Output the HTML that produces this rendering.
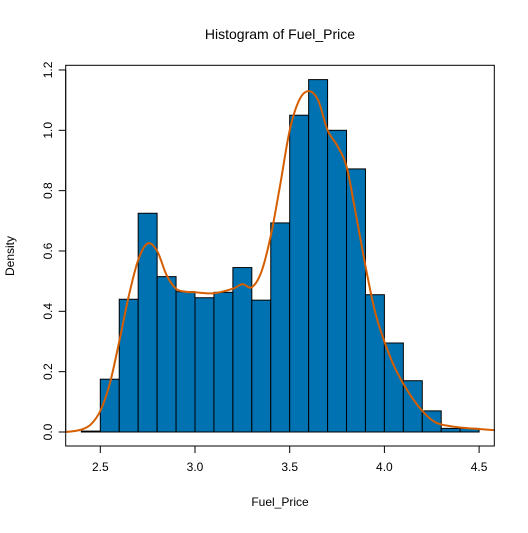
<!DOCTYPE html>
<html><head><meta charset="utf-8"><style>
body{margin:0;background:#fff}
svg text{font-family:"Liberation Sans",Arial,sans-serif;fill:#000}
</style></head><body>
<svg id="chart" width="528" height="528">
<text x="280" y="39" font-size="14" text-anchor="middle">Histogram of Fuel_Price</text>
<text x="280" y="506" font-size="12" text-anchor="middle">Fuel_Price</text>
<text transform="translate(14,256) rotate(-90)" font-size="12" text-anchor="middle">Density</text>
<g id="bars"></g><g id="axes"></g>
<path id="density" fill="none" stroke="#d55e00" stroke-width="2"/>
<rect x="65.7" y="65.3" width="428.6" height="380.7" fill="none" stroke="#000"/>
</svg>
<script>
const binStarts=[2.4,2.5,2.6,2.7,2.8,2.9,3.0,3.1,3.2,3.3,3.4,3.5,3.6,3.7,3.8,3.9,4.0,4.1,4.2,4.3,4.4];
const densities=[0.003,0.175,0.44,0.725,0.515,0.465,0.445,0.463,0.545,0.437,0.693,1.05,1.168,1.0,0.872,0.455,0.295,0.17,0.07,0.012,0.012];
const curveX=[2.317,2.35,2.4,2.45,2.5,2.55,2.6,2.65,2.7,2.75,2.8,2.85,2.9,2.95,3.0,3.1,3.2,3.25,3.3,3.35,3.4,3.45,3.5,3.55,3.6,3.65,3.7,3.75,3.8,3.85,3.9,3.95,4.0,4.05,4.1,4.15,4.2,4.25,4.3,4.4,4.5,4.583];
const curveY=[0.0,0.002,0.008,0.025,0.07,0.16,0.3,0.45,0.57,0.625,0.6,0.52,0.475,0.465,0.463,0.46,0.475,0.49,0.48,0.53,0.65,0.82,1.0,1.1,1.13,1.1,1.0,0.95,0.88,0.72,0.55,0.4,0.3,0.22,0.16,0.11,0.07,0.04,0.025,0.015,0.01,0.006];
const xTicks=[2.5,3.0,3.5,4.0,4.5];
const yTicks=[0,0.2,0.4,0.6,0.8,1.0,1.2];
const xs=v=>100.3+(v-2.5)*189.4;
const ys=v=>432-v*301.7;
const NS='http://www.w3.org/2000/svg';
const bars=document.getElementById('bars'),axes=document.getElementById('axes');
function mk(tag,a,p){const e=document.createElementNS(NS,tag);for(const k in a)e.setAttribute(k,a[k]);p.appendChild(e);return e;}
binStarts.forEach((b,i)=>{
 const r=mk('rect',{x:xs(b),y:ys(densities[i]),width:xs(b+0.1)-xs(b),height:ys(0)-ys(densities[i]),fill:'#0072b2',stroke:'#000','stroke-width':1},bars);
 
 
});
mk('line',{x1:xs(xTicks[0]),x2:xs(xTicks[xTicks.length-1]),y1:446,y2:446,stroke:'#000'},axes);
xTicks.forEach(t=>{
 mk('line',{x1:xs(t),x2:xs(t),y1:446,y2:453,stroke:'#000'},axes);
 const tx=mk('text',{x:xs(t),y:471,'font-size':12,'text-anchor':'middle'},axes);tx.textContent=t.toFixed(1);
 
 
});
mk('line',{x1:65.7,x2:65.7,y1:ys(0),y2:ys(1.2),stroke:'#000'},axes);
yTicks.forEach(t=>{
 mk('line',{x1:58.7,x2:65.7,y1:ys(t),y2:ys(t),stroke:'#000'},axes);
 const tx=mk('text',{transform:`translate(52,${ys(t)}) rotate(-90)`,'font-size':12,'text-anchor':'middle'},axes);tx.textContent=t.toFixed(1);
 
 
});
// Catmull-Rom smoothing
const P=curveX.map((x,i)=>[xs(x),ys(curveY[i])]);
let d='M'+P[0][0]+','+P[0][1];
for(let i=0;i<P.length-1;i++){const p0=P[i-1]||P[i],p1=P[i],p2=P[i+1],p3=P[i+2]||p2;
 d+=` C${p1[0]+(p2[0]-p0[0])/6},${p1[1]+(p2[1]-p0[1])/6} ${p2[0]-(p3[0]-p1[0])/6},${p2[1]-(p3[1]-p1[1])/6} ${p2[0]},${p2[1]}`;}
document.getElementById('density').setAttribute('d',d);
</script>
</body></html>
